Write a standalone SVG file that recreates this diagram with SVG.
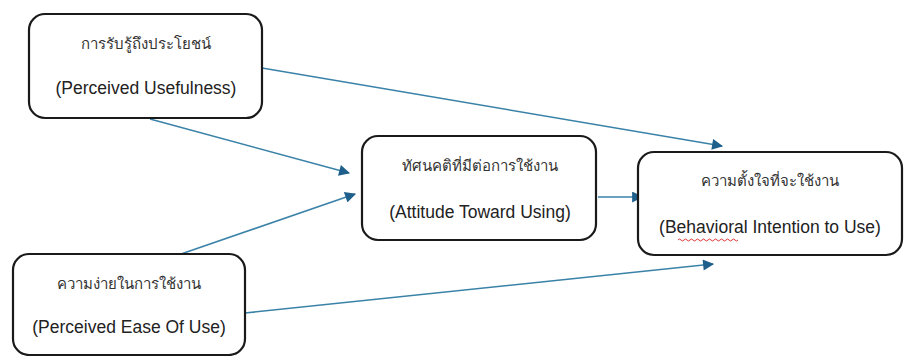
<svg xmlns="http://www.w3.org/2000/svg" width="904" height="356" viewBox="0 0 904 356">
<style>
.box{fill:#fff;stroke:#1a1a1a;stroke-width:2.2}
.t{font-family:"Noto Sans","Liberation Sans","Noto Sans CJK SC",sans-serif;font-size:15px;fill:#333;text-anchor:middle}
.e{font-family:"Liberation Sans",Arial,sans-serif;font-size:17.5px;fill:#222;text-anchor:middle}
.c{stroke:#3a82a8;stroke-width:1.6;fill:none;marker-end:url(#ah)}
</style>
<defs>
<marker id="ah" viewBox="0 0 10 10" refX="9" refY="5" markerWidth="12" markerHeight="11" markerUnits="userSpaceOnUse" orient="auto">
<path d="M0,0 L10,5 L0,10 z" fill="#1f5f8b"/>
</marker>
</defs>
<rect width="904" height="356" fill="#fff"/>
<g id="connectors">
<path class="c" d="M262,68 L722,146"/>
<path class="c" d="M150,119 L349,173"/>
<path class="c" d="M181,254 L355,194"/>
<path class="c" d="M598,197 L642,197"/>
<path class="c" d="M245,313 L713,264"/>
</g>
<g id="pu">
<rect class="box" x="29" y="14" width="233" height="104" rx="16"/>
<text class="t" x="146" y="49">การรับรู้ถึงประโยชน์</text>
<text class="e" x="146" y="94">(Perceived Usefulness)</text>
</g>
<g id="att">
<rect class="box" x="362" y="136" width="234" height="104" rx="16"/>
<text class="t" x="480" y="171">ทัศนคติที่มีต่อการใช้งาน</text>
<text class="e" x="480" y="218">(Attitude Toward Using)</text>
</g>
<g id="bi">
<rect class="box" x="638" y="152" width="264" height="103" rx="16"/>
<text class="t" x="770" y="186">ความตั้งใจที่จะใช้งาน</text>
<text class="e" x="770" y="233">(Behavioral Intention to Use)</text>
<path d="M678,240 q1.5,-2 3,0 t3,0 t3,0 t3,0 t3,0 t3,0 t3,0 t3,0 t3,0 t3,0 t3,0 t3,0 t3,0 t3,0 t3,0 t3,0 t3,0 t3,0 t3,0 t3,0" fill="none" stroke="#e02020" stroke-width="0.9"/>
</g>
<g id="peou">
<rect class="box" x="13" y="254" width="232" height="101" rx="16"/>
<text class="t" x="129" y="289">ความง่ายในการใช้งาน</text>
<text class="e" x="129" y="333">(Perceived Ease Of Use)</text>
</g>
</svg>
